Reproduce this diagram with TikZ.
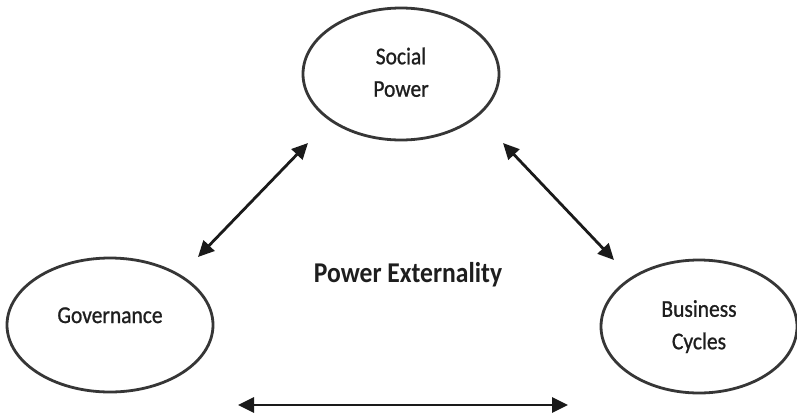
\documentclass[tikz,border=0pt]{standalone}
\usepackage{fontspec}
\setmainfont{Carlito}
\newfontfamily\labelfont[FakeBold=0.9]{Carlito}
\usepackage{graphicx}
\usetikzlibrary{arrows.meta,shapes.geometric}
\definecolor{ovalgray}{HTML}{363636}
\definecolor{arrowblack}{HTML}{1A1A1A}
\definecolor{textblack}{HTML}{1E1E1E}
\newcommand{\twoline}[2]{\scalebox{1}[1.12]{\begin{tabular}{@{}c@{}}#1\\#2\end{tabular}}}
\begin{document}
\begin{tikzpicture}[x=1pt,y=-1pt,
  oval/.style={ellipse, draw=ovalgray, line width=2.8pt, inner sep=0pt, fill=white,
    text=textblack, font=\labelfont\fontsize{21.5}{29}\selectfont, align=center},
  dblarrow/.style={{Triangle[length=16pt,width=15pt]}-{Triangle[length=16pt,width=15pt]},
    line width=2.8pt, draw=arrowblack},
  title/.style={text=textblack, font=\bfseries\fontsize{25.6}{30}\selectfont, anchor=base}
]
\useasboundingbox (0,0) rectangle (797,416);
\node[oval, minimum width=196pt, minimum height=132pt] (sp) at (401,74) {\twoline{Social}{Power}};
\node[oval, minimum width=206pt, minimum height=134pt] (gov) at (110,325)
  {\raisebox{2pt}[0pt][0pt]{\scalebox{1}[1.12]{Governance}}};
\node[oval, minimum width=196pt, minimum height=133pt] (bc) at (699,326.5) {\twoline{Business}{Cycles}};
\node[title] (pe) at (408,282) {\scalebox{1}[1.12]{Power Externality}};
\coordinate (a1) at (308,143); \coordinate (a2) at (198,257);
\coordinate (b1) at (503,143); \coordinate (b2) at (614,260);
\coordinate (c1) at (238,405); \coordinate (c2) at (568,405);
\draw[dblarrow] (a1) -- (a2);
\draw[dblarrow] (b1) -- (b2);
\draw[dblarrow] (c1) -- (c2);
\end{tikzpicture}
\end{document}
